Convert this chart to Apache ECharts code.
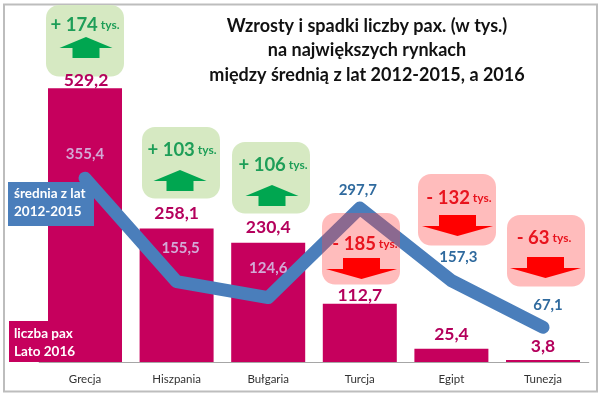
<!DOCTYPE html>
<html>
<head>
<meta charset="utf-8">
<style>
  html, body { margin: 0; padding: 0; background: #fff; }
  #chart { width: 600px; height: 394px; }
</style>
<script src="https://cdn.jsdelivr.net/npm/echarts@6/dist/echarts.min.js"></script>
</head>
<body>
<div id="chart"></div>
<script>
var FONT = 'Lato, "Noto Sans", sans-serif';

// dane
var categories = ['Grecja', 'Hiszpania', 'Bułgaria', 'Turcja', 'Egipt', 'Tunezja'];
var lato2016 = [529.2, 258.1, 230.4, 112.7, 25.4, 3.8];
var srednia = [355.4, 155.5, 124.6, 297.7, 157.3, 67.1];
var roznice = ['+ 174', '+ 103', '+ 106', '- 185', '- 132', '- 63'];

// przesuniecia etykiet [x, y] wzgledem punktu
var barLabelOffsets = [[1, -8], [0, -15], [0, -15], [0, -8], [0, -15], [0, -14]];
var lineLabelOffsets = [[0, -24], [4, -33], [0, -29], [-2, -18], [7, -23], [5, -22]];
var lineLabelColors = ['#D3A9D6', '#D3A9D6', '#D3A9D6', '#2F6A9E', '#2F6A9E', '#2F6A9E'];

// ramki z roznicami: x, y lewego gornego rogu, srodek tekstu, srodek strzalki, gora strzalki
var boxes = [
  { x: 46, y: 5, textX: 85, textY: 25, arrowX: 86, arrowY: 37 },
  { x: 142, y: 127, textX: 182, textY: 150, arrowX: 180, arrowY: 170 },
  { x: 232, y: 142, textX: 273, textY: 165, arrowX: 272, arrowY: 185 },
  { x: 322, y: 213, textX: 365, textY: 244, arrowX: 361.5, arrowY: 258 },
  { x: 418, y: 174, textX: 459, textY: 198, arrowX: 457.5, arrowY: 215 },
  { x: 507, y: 215, textX: 544, textY: 238, arrowX: 545.5, arrowY: 257 }
];

function fmt(v) {
  return String(v.toFixed(1)).replace('.', ',');
}

function arrow(b, up) {
  var pts;
  if (up) {
    pts = [[0, 0], [26.5, 11], [13.5, 11], [13.5, 21], [-13.5, 21], [-13.5, 11], [-26.5, 11]];
  } else {
    pts = [[-18.5, 0], [18.5, 0], [18.5, 11], [35.5, 11], [0, 21], [-35.5, 11], [-18.5, 11]];
  }
  return {
    type: 'polygon',
    z: 20,
    shape: { points: pts.map(function (p) { return [b.arrowX + p[0], b.arrowY + p[1]]; }) },
    style: { fill: up ? '#00A650' : '#FF0000' }
  };
}

var graphics = [
  // ramka obrazka
  { type: 'rect', z: 0, silent: true, shape: { x: 4, y: 4.5, width: 593, height: 387 },
    style: { fill: 'none', stroke: '#BDBDBD', lineWidth: 2 } }
];

boxes.forEach(function (b, i) {
  var up = roznice[i].charAt(0) === '+';
  var main = up ? '#1E9E58' : '#E8141E';
  graphics.push({
    type: 'rect',
    // zielone pod etykieta slupka, czerwone przykrywaja linie
    z: up ? 1 : 10,
    shape: { x: b.x, y: b.y, width: 78, height: 71.5, r: 13 },
    style: { fill: up ? '#D6E9C2' : 'rgba(255,70,70,0.36)' }
  });
  graphics.push(arrow(b, up));
  graphics.push({
    type: 'text',
    z: 21,
    x: b.textX,
    y: b.textY,
    style: {
      text: '{a|' + roznice[i] + '}{b| tys.}',
      align: 'center',
      verticalAlign: 'middle',
      rich: {
        a: { fontFamily: FONT, fontSize: 18.5, fontWeight: 'bold', fill: main, color: main },
        b: { fontFamily: FONT, fontSize: 12, fontWeight: 'bold', fill: main, color: main }
      }
    }
  });
});

// tytul
['Wzrosty i spadki liczby pax. (w tys.)', 'na największych rynkach', 'między średnią z lat 2012-2015, a 2016'].forEach(function (t, i) {
  graphics.push({
    type: 'text',
    z: 30,
    x: 367,
    y: 26 + i * 24.5,
    style: { text: t, align: 'center', verticalAlign: 'middle', fontFamily: FONT, fontSize: 18, fontWeight: 'bold', fill: '#111' }
  });
});

// podpisy serii
graphics.push({ type: 'rect', z: 30, shape: { x: 8, y: 182, width: 86, height: 44 }, style: { fill: '#4A7EBB' } });
graphics.push({
  type: 'text', z: 31, x: 14, y: 203,
  style: { text: 'średnia z lat\n2012-2015', align: 'left', verticalAlign: 'middle', lineHeight: 18, fontFamily: FONT, fontSize: 13.5, fontWeight: 'bold', fill: '#fff' }
});
graphics.push({ type: 'rect', z: 30, shape: { x: 9, y: 321, width: 41, height: 41 }, style: { fill: '#C6005D' } });
graphics.push({
  type: 'text', z: 31, x: 14, y: 343,
  style: { text: 'liczba pax\nLato 2016', align: 'left', verticalAlign: 'middle', lineHeight: 18, fontFamily: FONT, fontSize: 13.5, fontWeight: 'bold', fill: '#fff' }
});

var chart = echarts.init(document.getElementById('chart'), null, { renderer: 'canvas' });
chart.setOption({
  animation: false,
  backgroundColor: '#fff',
  textStyle: { fontFamily: FONT },
  grid: { left: 39.2, right: 11.2, top: 0, bottom: 32 },
  xAxis: {
    type: 'category',
    data: categories,
    axisTick: { show: false },
    axisLine: { lineStyle: { color: '#A6A6A6', width: 1 } },
    axisLabel: { color: '#333', fontSize: 11.5, margin: 11, fontFamily: FONT }
  },
  yAxis: { type: 'value', min: 0, max: 700, show: false },
  series: [
    {
      name: 'liczba pax Lato 2016',
      type: 'bar',
      barWidth: 74,
      z: 2,
      itemStyle: { color: '#C6005D' },
      data: lato2016.map(function (v, i) {
        return {
          value: v,
          label: {
            show: true,
            position: 'top',
            distance: 0,
            align: 'center',
            verticalAlign: 'middle',
            offset: barLabelOffsets[i],
            formatter: fmt(v),
            color: '#B4005C',
            fontSize: 17.5,
            fontWeight: 'bold',
            fontFamily: FONT
          }
        };
      })
    },
    {
      name: 'średnia z lat 2012-2015',
      type: 'line',
      z: 4,
      symbol: 'circle',
      symbolSize: 1,
      showSymbol: true,
      lineStyle: { color: '#4A7EBB', width: 13, cap: 'round', join: 'round' },
      itemStyle: { color: '#4A7EBB' },
      data: srednia.map(function (v, i) {
        return {
          value: v,
          label: {
            show: true,
            position: 'inside',
            align: 'center',
            verticalAlign: 'middle',
            offset: lineLabelOffsets[i],
            formatter: fmt(v),
            color: lineLabelColors[i],
            fontSize: 15,
            fontWeight: 'bold',
            fontFamily: FONT
          }
        };
      })
    }
  ],
  graphic: { elements: graphics }
});
</script>
</body>
</html>
